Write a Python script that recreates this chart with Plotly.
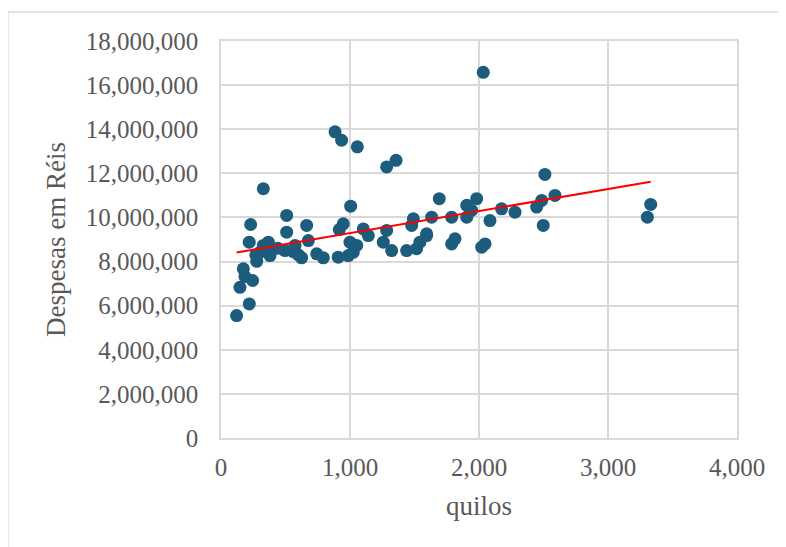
import numpy as np
import plotly.graph_objects as go

# quilos (kg) and despesas (réis)
quilos = [121, 219, 147, 173, 186, 245, 328, 230, 219, 277, 302, 367, 380, 328,
          509, 509, 496, 574, 625, 664, 677, 742, 793, 440, 560, 600, 270, 350,
          884, 935, 1057, 1284, 1357, 1005, 948, 917, 1103, 1142, 1000, 1052,
          909, 987, 1025, 1284, 1258, 1323, 1439, 1491, 1478, 1594, 1542, 1516,
          1692, 1633, 1788, 1905, 1982, 1905, 1943, 1594, 1814, 1788, 2047,
          2021, 2085, 2175, 2279, 2511, 2486, 2447, 2589, 2498, 3331, 3305, 2033]
despesas = [5.55, 6.08, 6.83, 7.67, 7.32, 7.14, 11.3, 9.68, 8.88, 8.01, 8.42, 8.88, 8.27, 8.73,
            10.09, 9.33, 8.5, 8.73, 8.17, 9.64, 8.95, 8.35, 8.17, 8.6, 8.45, 8.3, 8.3, 8.6,
            13.88, 13.5, 13.2, 12.29, 12.59, 10.51, 9.71, 9.45, 9.48, 9.18, 8.88, 8.73,
            8.2, 8.27, 8.42, 9.41, 8.88, 8.5, 8.5, 9.94, 9.64, 9.18, 8.88, 8.58,
            10.85, 10.01, 10.01, 10.55, 10.85, 10.01, 10.32, 9.26, 9.03, 8.8, 8.8,
            8.65, 9.86, 10.39, 10.24, 11.95, 10.77, 10.47, 11.0, 9.64, 10.59, 10.01, 16.58]
despesas = [v * 1e6 for v in despesas]

x_ticks = [0, 1000, 2000, 3000, 4000]
y_ticks = list(range(0, 18000001, 2000000))

# linear trendline fitted to the data
slope, intercept = np.polyfit(quilos, despesas, 1)
tx = [min(quilos), max(quilos)]
ty = [slope * v + intercept for v in tx]

font_family = "Liberation Serif, Times New Roman, serif"
txt_color = "#595959"
grid = "#d9d9d9"

fig = go.Figure()
fig.add_trace(go.Scatter(x=quilos, y=despesas, mode="markers",
                         marker=dict(size=13, color="#1c5c7c"),
                         showlegend=False, hoverinfo="skip"))
fig.add_trace(go.Scatter(x=tx, y=ty, mode="lines",
                         line=dict(color="#ff0000", width=2),
                         showlegend=False, hoverinfo="skip"))

fig.update_layout(
    width=786, height=547,
    margin=dict(l=213, r=57, t=33, b=117),
    paper_bgcolor="white", plot_bgcolor="white",
    font=dict(family=font_family, color=txt_color, size=25),
    xaxis=dict(range=[0, 4000], tickvals=x_ticks, tickformat=",d",
               showgrid=True, gridcolor=grid, gridwidth=1.5,
               showline=True, linecolor=grid, linewidth=1.5, mirror=True,
               zeroline=False, ticks="", ticklabelstandoff=6,
               title=dict(text="quilos", font=dict(size=27), standoff=16)),
    yaxis=dict(range=[0, 18000000], tickvals=y_ticks, tickformat=",d",
               showgrid=True, gridcolor=grid, gridwidth=1.5,
               showline=True, linecolor=grid, linewidth=1.5, mirror=True,
               zeroline=False, ticks="", ticklabelstandoff=16,
               title=dict(text="Despesas em Réis", font=dict(size=27), standoff=12)),
    shapes=[dict(type="rect", xref="paper", yref="paper",
                 x0=-0.413, x1=1.11, y0=-0.3, y1=1.073,
                 line=dict(color=grid, width=1.5), layer="below")],
)

fig.write_html("out.html")
